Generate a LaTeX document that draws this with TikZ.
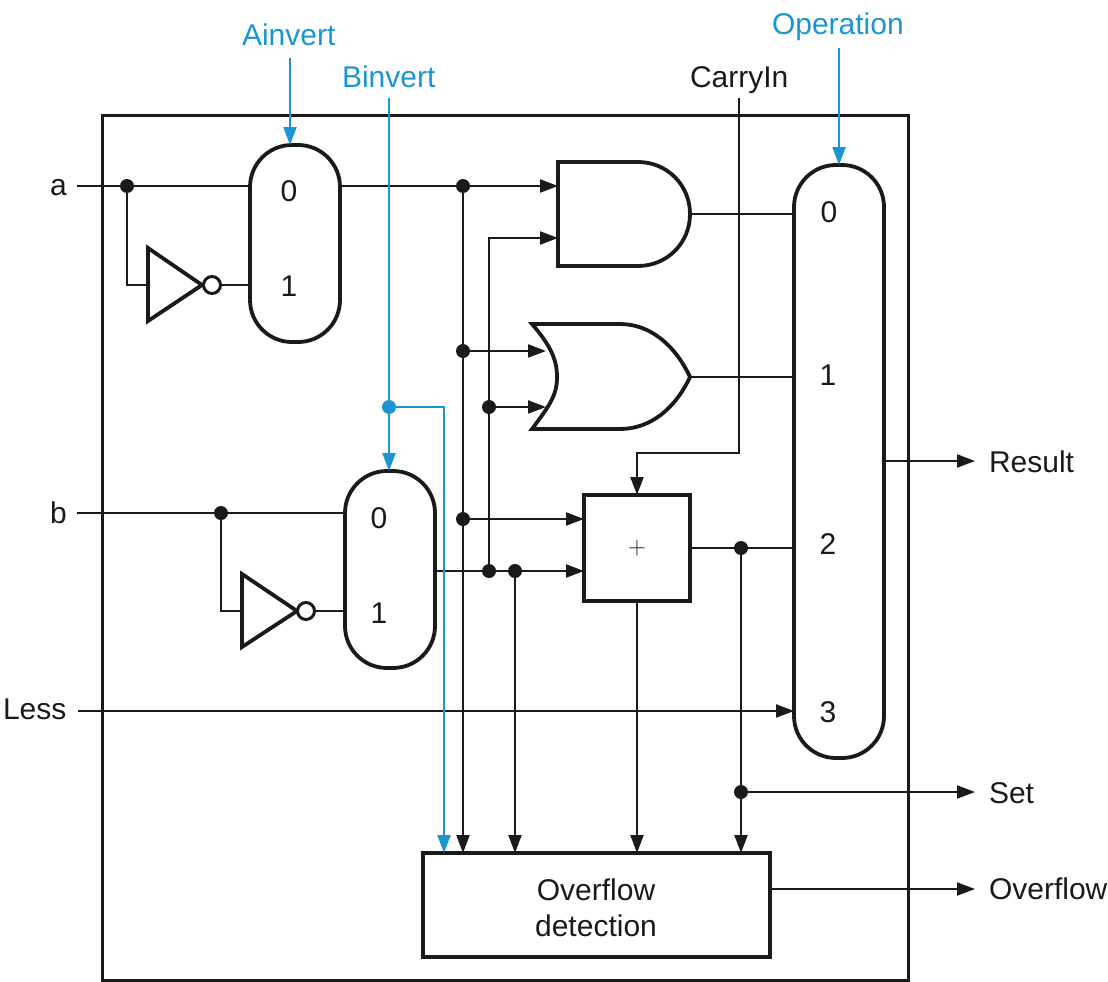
\documentclass[tikz,border=0pt]{standalone}
\usepackage{fontspec}
\setmainfont{Liberation Sans}
\usetikzlibrary{arrows.meta}
\definecolor{ink}{HTML}{1A1A1A}
\definecolor{ctrl}{HTML}{1B96D2}
\tikzset{
  wire/.style={draw=ink,line width=2.2pt},
  awire/.style={wire,-{Triangle[length=18pt,width=13pt]}},
  cwire/.style={draw=ctrl,line width=2.2pt,-{Triangle[length=18pt,width=13pt]}},
  shapeline/.style={draw=ink,line width=3.8pt,line join=miter},
  muxbox/.style={shapeline,rectangle,rounded corners=42pt,minimum width=90pt,inner sep=0pt,outer sep=0pt},
  sqbox/.style={shapeline,rectangle,inner sep=0pt,outer sep=0pt},
  framebox/.style={draw=ink,line width=3pt,rectangle,inner sep=0pt,outer sep=0pt},
  dotnode/.style={circle,fill=ink,inner sep=0pt,outer sep=0pt,minimum size=14pt},
  cdotnode/.style={circle,fill=ctrl,inner sep=0pt,outer sep=0pt,minimum size=14pt},
  bubble/.style={circle,draw=ink,line width=3pt,fill=white,inner sep=0pt,outer sep=0pt,minimum size=17pt},
  lab/.style={text=ink,font=\fontsize{30pt}{36pt}\selectfont,inner sep=0pt,outer sep=0pt,anchor=base west},
  clab/.style={lab,text=ctrl},
  numlab/.style={text=ink,font=\fontsize{30pt}{36pt}\selectfont,inner sep=0pt,outer sep=0pt,anchor=base},
}
\begin{document}
\begin{tikzpicture}[x=1pt,y=-1pt]
\useasboundingbox (0,0) rectangle (1108,982);
% frame and blocks
\node[framebox,minimum width=806pt,minimum height=865pt] (frame) at (505,547.5) {};
\node[muxbox,minimum height=197pt] (ma) at (295,243.5) {};
\node[muxbox,minimum height=197pt] (mb) at (390,569.5) {};
\node[muxbox,minimum height=593pt] (mo) at (839,461.5) {};
\node[sqbox,minimum width=106pt,minimum height=106pt] (add) at (637,548) {};
\node[sqbox,minimum width=347pt,minimum height=104pt] (ovf) at (596.5,905) {};
% gates
\draw[shapeline] (558,162) -- (638,162) .. controls (667,162) and (690,185) .. (690,214) .. controls (690,243) and (667,266) .. (638,266) -- (558,266) -- cycle;
\draw[shapeline] (532,324) -- (620,324) .. controls (650,324) and (675,345) .. (690,377) .. controls (675,409) and (650,429) .. (620,429) -- (532,429) .. controls (550,405) and (557,395) .. (557,377) .. controls (557,359) and (550,345) .. (532,324) -- cycle;
\draw[shapeline] (148,248) -- (148,321) -- (202,285) -- cycle;
\draw[shapeline] (242,574) -- (242,647) -- (297,611) -- cycle;
\node[bubble] (ba) at (212,285) {};
\node[bubble] (bb) at (306,611) {};
% labels
\node[clab] (lainv) at (242,46) {Ainvert};
\node[clab] (lbinv) at (342,87) {Binvert};
\node[lab] (lcin) at (690,87) {CarryIn};
\node[clab] (lop) at (772,35) {Operation};
\node[lab] (la) at (50,195) {a};
\node[lab] (lb) at (50,523) {b};
\node[lab] (lless) at (3,719) {Less};
\node[lab] (lres) at (989,472) {Result};
\node[lab] (lset) at (989,803) {Set};
\node[lab] (lovf) at (989,899) {Overflow};
\node[numlab] (a0) at (289,201) {0};
\node[numlab] (a1) at (289,296) {1};
\node[numlab] (b0) at (379,528) {0};
\node[numlab] (b1) at (379,623) {1};
\node[numlab] (o0) at (829,222) {0};
\node[numlab] (o1) at (828,385) {1};
\node[numlab] (o2) at (828,554) {2};
\node[numlab] (o3) at (828,722) {3};
\node[numlab] (ot1) at (596,900) {Overflow};
\node[numlab] (ot2) at (596,936) {detection};
\node[inner sep=0pt,text=ink,font=\fontsize{29pt}{32pt}\selectfont] (plus) at (637,548) {$+$};
% dots
\node[dotnode] (d1) at (127,186) {};
\node[dotnode] (d2) at (463,186) {};
\node[dotnode] (d3) at (463,351) {};
\node[dotnode] (d4) at (489,407) {};
\node[dotnode] (d5) at (463,519) {};
\node[dotnode] (d6) at (489,571) {};
\node[dotnode] (d7) at (515,571) {};
\node[dotnode] (d8) at (741,548) {};
\node[dotnode] (d9) at (741,792) {};
\node[dotnode] (d10) at (221,513) {};
\node[cdotnode] (cd) at (389,407) {};
% free ends
\coordinate (ina) at (77,186);
\coordinate (inb) at (77,513);
\coordinate (inless) at (78,711);
\coordinate (p1) at (558,186);
\coordinate (p2) at (558,238);
\coordinate (p3) at (546,351);
\coordinate (p4) at (546,407);
\coordinate (p5) at (584,519);
\coordinate (p6) at (584,571);
\coordinate (ina1) at (148,285);
\coordinate (inb1) at (242,611);
\coordinate (andout) at (690,214);
\coordinate (orout) at (690,377);
\coordinate (ainv0) at (290,58);
\coordinate (binv0) at (389,98);
\coordinate (op0) at (839,48);
\coordinate (cin0) at (739,98);
\coordinate (cin1) at (739,453);
\coordinate (resE) at (975,461);
\coordinate (setE) at (975,792);
\coordinate (ovfE) at (975,889);
\coordinate (bl1) at (444,853);
% black wires
\draw[wire] (ina) -- (ma.west |- ina);
\draw[wire] (d1.center) |- (ina1);
\draw[wire] (ba) -- (ma.west |- ba);
\draw[wire] (inb) -- (mb.west |- inb);
\draw[wire] (d10.center) |- (inb1);
\draw[wire] (bb) -- (mb.west |- bb);
\draw[awire] (ma.east |- d2) -- (p1);
\draw[awire] (d6.center) |- (p2);
\draw[awire] (d3) -- (p3);
\draw[awire] (d4) -- (p4);
\draw[awire] (d5) -- (p5);
\draw[awire] (mb.east |- d6) -- (p6);
\draw[wire] (andout) -- (mo.west |- andout);
\draw[wire] (orout) -- (mo.west |- orout);
\draw[wire] (add.east |- d8) -- (mo.west |- d8);
\draw[awire] (inless) -- (mo.west |- inless);
\draw[awire] (mo.east |- resE) -- (resE);
\draw[awire] (d9) -- (setE);
\draw[awire] (ovf.east |- ovfE) -- (ovfE);
\draw[awire] (d2) -- (d2 |- ovf.north);
\draw[awire] (d7) -- (d7 |- ovf.north);
\draw[awire] (add.south) -- (add.south |- ovf.north);
\draw[awire] (d8) -- (d8 |- ovf.north);
\draw[awire] (cin0) -- (cin1) -| (add.north);
% control wires
\draw[cwire] (ainv0) -- (ainv0 |- ma.north);
\draw[cwire] (binv0) -- (binv0 |- mb.north);
\draw[cwire] (op0) -- (op0 |- mo.north);
\draw[cwire] (cd) -| (bl1);
\end{tikzpicture}
\end{document}
